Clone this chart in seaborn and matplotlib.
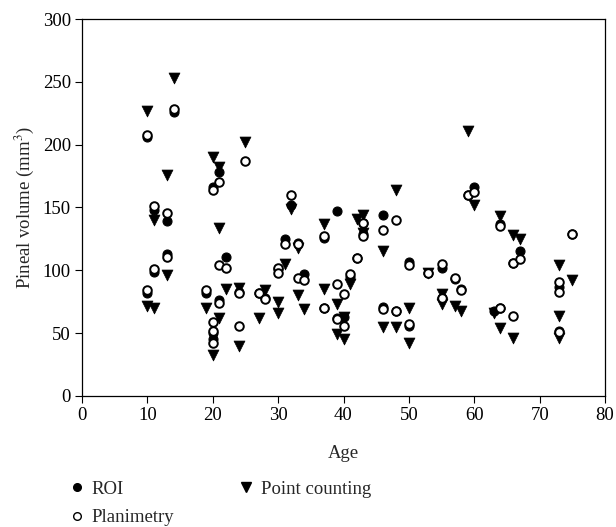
import matplotlib
matplotlib.use("Agg")
import matplotlib.pyplot as plt
from matplotlib.lines import Line2D
import seaborn as sns
import pandas as pd

# ---- data ----
roi_age = [10, 10, 11, 11, 13, 13, 14, 19, 20, 20, 20, 21, 21, 22, 24, 27, 28, 30, 31, 32, 33, 34,
           37, 37, 39, 39, 40, 41, 42, 43, 43, 46, 46, 48, 50, 50, 53, 55, 55, 57, 58, 59, 60,
           63, 64, 64, 66, 67, 73, 73, 75]
roi_vol = [206, 82, 148, 99, 139, 113, 226, 82, 166, 45, 50, 178, 76, 111, 83, 82, 78, 101, 125, 152, 122, 97,
           126, 70, 147, 62, 63, 95, 110, 129, 138, 144, 71, 68, 107, 56, 98, 102, 78, 93, 85, 160, 166,
           68, 137, 70, 106, 115, 87, 52, 129]

plan_age = [10, 10, 11, 11, 13, 13, 14, 19, 20, 20, 20, 20, 21, 21, 21, 22, 24, 24, 25, 27, 28, 30, 30,
            31, 32, 33, 33, 34, 37, 37, 39, 39, 40, 40, 41, 42, 43, 43, 46, 46, 48, 48, 50, 50, 53,
            55, 55, 57, 58, 59, 60, 64, 64, 66, 66, 67, 73, 73, 73, 75]
plan_vol = [208, 84, 151, 101, 146, 111, 228, 84, 164, 59, 52, 42, 170, 104, 74, 102, 82, 56, 187, 82, 77, 102, 98,
            121, 160, 94, 121, 92, 127, 70, 89, 61, 81, 56, 97, 110, 138, 127, 132, 69, 140, 68, 104, 57, 98,
            105, 78, 94, 84, 160, 162, 135, 70, 106, 64, 109, 91, 83, 51, 129]

pc_age = [10, 10, 11, 11, 13, 13, 14, 19, 20, 20, 21, 21, 21, 22, 24, 24, 25, 27, 28, 30, 30, 31, 32,
          33, 33, 34, 37, 37, 39, 39, 40, 40, 41, 42, 43, 43, 46, 46, 48, 48, 50, 50, 53, 55, 55,
          57, 58, 59, 60, 63, 64, 64, 66, 66, 67, 73, 73, 73, 75]
pc_vol = [227, 72, 140, 70, 176, 96, 253, 70, 190, 33, 182, 134, 62, 85, 86, 40, 202, 62, 84, 75, 66, 105, 149,
          118, 80, 69, 137, 85, 73, 49, 63, 45, 89, 141, 144, 130, 115, 55, 164, 55, 70, 42, 98, 81, 73,
          72, 68, 211, 152, 66, 143, 54, 128, 46, 125, 104, 64, 46, 92]

x_ticks = [0, 10, 20, 30, 40, 50, 60, 70, 80]
y_ticks = [0, 50, 100, 150, 200, 250, 300]

sns.set_theme(style="ticks")
plt.rcParams["font.family"] = ["Liberation Serif", "DejaVu Serif"]
plt.rcParams["mathtext.fontset"] = "stix"

FS = 13.5
fig = plt.figure(figsize=(6.16, 5.27), dpi=100)
ax = fig.add_axes([82 / 616, 1 - 396 / 527, (605 - 82) / 616, (396 - 19) / 527])

df_roi = pd.DataFrame({"Age": roi_age, "Vol": roi_vol})
df_plan = pd.DataFrame({"Age": plan_age, "Vol": plan_vol})
df_pc = pd.DataFrame({"Age": pc_age, "Vol": pc_vol})

sns.scatterplot(data=df_pc, x="Age", y="Vol", ax=ax, marker="v", s=62, color="black",
                edgecolor="black", linewidth=0.5, legend=False, zorder=3)
sns.scatterplot(data=df_roi, x="Age", y="Vol", ax=ax, marker="o", s=42, color="black",
                edgecolor="black", linewidth=0.8, legend=False, zorder=4)
sns.scatterplot(data=df_plan, x="Age", y="Vol", ax=ax, marker="o", s=38, facecolor="white",
                edgecolor="black", linewidth=1.4, legend=False, zorder=5)

ax.set_xlim(0, 80)
ax.set_ylim(0, 300)
ax.set_xticks(x_ticks)
ax.set_yticks(y_ticks)
ax.tick_params(direction="out", length=5, width=0.8, labelsize=FS, colors="black",
               top=False, right=False, pad=3)
for sp in ax.spines.values():
    sp.set_visible(True)
    sp.set_color("black")
    sp.set_linewidth(0.9)
ax.set_xlabel("Age", fontsize=FS, labelpad=15)
ax.set_ylabel("Pineal volume (mm$^3$)", fontsize=FS, labelpad=5)

handles = [
    Line2D([], [], marker="o", linestyle="none", color="black", markersize=5.5),
    Line2D([], [], marker="o", linestyle="none", markerfacecolor="white",
           markeredgecolor="black", markeredgewidth=1.0, markersize=5.5),
    Line2D([], [], marker="v", linestyle="none", color="black", markersize=6.5),
]
labels = ["ROI", "Planimetry", "Point counting"]
fig.legend(handles, labels, ncol=2, frameon=False, loc="upper left",
           bbox_to_anchor=(60 / 616, 1 - 473 / 527), fontsize=FS,
           handletextpad=0.3, columnspacing=3.3, labelspacing=0.62, handlelength=1.0,
           borderaxespad=0.0)

fig.savefig("out.png", dpi=100)
